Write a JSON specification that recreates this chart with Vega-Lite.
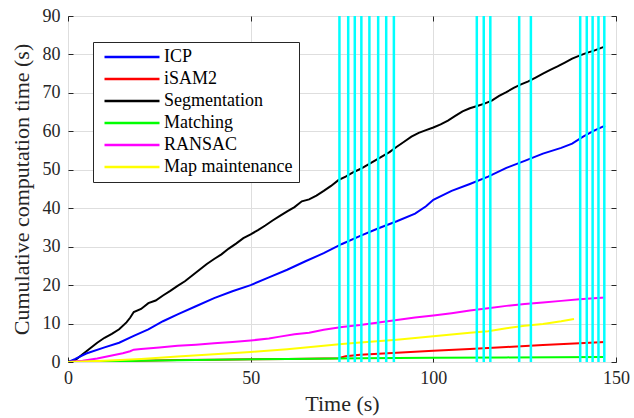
{
  "$schema": "https://vega.github.io/schema/vega-lite/v6.json",
  "width": 548,
  "height": 346,
  "autosize": {"type": "none"},
  "padding": {"left": 68, "top": 16, "right": 18, "bottom": 56},
  "config": {
    "font": "Liberation Serif, DejaVu Serif, serif",
    "view": {"stroke": "#262626", "strokeWidth": 1},
    "axis": {
      "domain": false,
      "grid": true,
      "gridColor": "#dedede",
      "gridWidth": 1,
      "tickColor": "#262626",
      "tickSize": -5,
      "labelFlush": false,
      "labelFont": "Liberation Serif, DejaVu Serif, serif",
      "labelFontSize": 18,
      "labelColor": "#262626",
      "titleFont": "Liberation Serif, DejaVu Serif, serif",
      "titleFontSize": 22,
      "titleFontWeight": "normal",
      "titleColor": "#262626"
    },
    "legend": {
      "labelFont": "Liberation Serif, DejaVu Serif, serif",
      "labelFontSize": 18,
      "labelColor": "#000000"
    }
  },
  "resolve": {"axis": {"x": "independent", "y": "independent"}},
  "datasets": {
    "series": [
      {"t": 0, "v": 0, "s": "Segmentation"},
      {"t": 2, "v": 0.5, "s": "Segmentation"},
      {"t": 4, "v": 2, "s": "Segmentation"},
      {"t": 6, "v": 3.5, "s": "Segmentation"},
      {"t": 8, "v": 5, "s": "Segmentation"},
      {"t": 10, "v": 6.3, "s": "Segmentation"},
      {"t": 12, "v": 7.3, "s": "Segmentation"},
      {"t": 14, "v": 8.5, "s": "Segmentation"},
      {"t": 16, "v": 10.3, "s": "Segmentation"},
      {"t": 17, "v": 11.5, "s": "Segmentation"},
      {"t": 18, "v": 13, "s": "Segmentation"},
      {"t": 20, "v": 13.8, "s": "Segmentation"},
      {"t": 22, "v": 15.3, "s": "Segmentation"},
      {"t": 24, "v": 16, "s": "Segmentation"},
      {"t": 26, "v": 17.3, "s": "Segmentation"},
      {"t": 28, "v": 18.5, "s": "Segmentation"},
      {"t": 30, "v": 19.8, "s": "Segmentation"},
      {"t": 32, "v": 21, "s": "Segmentation"},
      {"t": 34, "v": 22.5, "s": "Segmentation"},
      {"t": 36, "v": 24, "s": "Segmentation"},
      {"t": 38, "v": 25.5, "s": "Segmentation"},
      {"t": 40, "v": 26.8, "s": "Segmentation"},
      {"t": 42, "v": 28, "s": "Segmentation"},
      {"t": 44, "v": 29.5, "s": "Segmentation"},
      {"t": 46, "v": 30.8, "s": "Segmentation"},
      {"t": 48, "v": 32.2, "s": "Segmentation"},
      {"t": 50, "v": 33.2, "s": "Segmentation"},
      {"t": 52, "v": 34.3, "s": "Segmentation"},
      {"t": 54, "v": 35.5, "s": "Segmentation"},
      {"t": 56, "v": 36.8, "s": "Segmentation"},
      {"t": 58, "v": 38, "s": "Segmentation"},
      {"t": 60, "v": 39.2, "s": "Segmentation"},
      {"t": 62, "v": 40.3, "s": "Segmentation"},
      {"t": 64, "v": 41.8, "s": "Segmentation"},
      {"t": 66, "v": 42.3, "s": "Segmentation"},
      {"t": 68, "v": 43.3, "s": "Segmentation"},
      {"t": 70, "v": 44.5, "s": "Segmentation"},
      {"t": 72, "v": 45.8, "s": "Segmentation"},
      {"t": 74, "v": 47.3, "s": "Segmentation"},
      {"t": 76, "v": 48.2, "s": "Segmentation"},
      {"t": 78, "v": 49.3, "s": "Segmentation"},
      {"t": 80, "v": 50.2, "s": "Segmentation"},
      {"t": 82, "v": 51.3, "s": "Segmentation"},
      {"t": 84, "v": 52.4, "s": "Segmentation"},
      {"t": 86, "v": 53.5, "s": "Segmentation"},
      {"t": 88, "v": 54.6, "s": "Segmentation"},
      {"t": 90, "v": 56, "s": "Segmentation"},
      {"t": 92, "v": 57.3, "s": "Segmentation"},
      {"t": 94, "v": 58.6, "s": "Segmentation"},
      {"t": 96, "v": 59.6, "s": "Segmentation"},
      {"t": 98, "v": 60.3, "s": "Segmentation"},
      {"t": 100, "v": 61, "s": "Segmentation"},
      {"t": 102, "v": 61.8, "s": "Segmentation"},
      {"t": 104, "v": 62.8, "s": "Segmentation"},
      {"t": 106, "v": 64, "s": "Segmentation"},
      {"t": 108, "v": 65.2, "s": "Segmentation"},
      {"t": 110, "v": 66, "s": "Segmentation"},
      {"t": 112, "v": 66.6, "s": "Segmentation"},
      {"t": 114, "v": 67.2, "s": "Segmentation"},
      {"t": 116, "v": 68, "s": "Segmentation"},
      {"t": 118, "v": 69.2, "s": "Segmentation"},
      {"t": 120, "v": 70.2, "s": "Segmentation"},
      {"t": 122, "v": 71.3, "s": "Segmentation"},
      {"t": 124, "v": 72.2, "s": "Segmentation"},
      {"t": 126, "v": 73, "s": "Segmentation"},
      {"t": 128, "v": 74, "s": "Segmentation"},
      {"t": 130, "v": 75, "s": "Segmentation"},
      {"t": 132, "v": 76, "s": "Segmentation"},
      {"t": 134, "v": 76.9, "s": "Segmentation"},
      {"t": 136, "v": 77.9, "s": "Segmentation"},
      {"t": 138, "v": 78.9, "s": "Segmentation"},
      {"t": 140, "v": 79.7, "s": "Segmentation"},
      {"t": 142, "v": 80.4, "s": "Segmentation"},
      {"t": 144, "v": 81, "s": "Segmentation"},
      {"t": 146.5, "v": 81.9, "s": "Segmentation"},
      {"t": 0, "v": 0, "s": "ICP"},
      {"t": 2, "v": 0.8, "s": "ICP"},
      {"t": 5, "v": 2.2, "s": "ICP"},
      {"t": 10, "v": 3.8, "s": "ICP"},
      {"t": 14, "v": 5, "s": "ICP"},
      {"t": 18, "v": 6.8, "s": "ICP"},
      {"t": 22, "v": 8.5, "s": "ICP"},
      {"t": 26, "v": 10.6, "s": "ICP"},
      {"t": 30, "v": 12.4, "s": "ICP"},
      {"t": 35, "v": 14.5, "s": "ICP"},
      {"t": 40, "v": 16.6, "s": "ICP"},
      {"t": 45, "v": 18.4, "s": "ICP"},
      {"t": 50, "v": 20, "s": "ICP"},
      {"t": 55, "v": 22, "s": "ICP"},
      {"t": 60, "v": 24, "s": "ICP"},
      {"t": 65, "v": 26.2, "s": "ICP"},
      {"t": 70, "v": 28.3, "s": "ICP"},
      {"t": 75, "v": 30.7, "s": "ICP"},
      {"t": 80, "v": 32.8, "s": "ICP"},
      {"t": 85, "v": 34.8, "s": "ICP"},
      {"t": 90, "v": 36.6, "s": "ICP"},
      {"t": 95, "v": 38.6, "s": "ICP"},
      {"t": 98, "v": 40.5, "s": "ICP"},
      {"t": 100, "v": 42.2, "s": "ICP"},
      {"t": 105, "v": 44.5, "s": "ICP"},
      {"t": 110, "v": 46.3, "s": "ICP"},
      {"t": 115, "v": 48.2, "s": "ICP"},
      {"t": 120, "v": 50.5, "s": "ICP"},
      {"t": 125, "v": 52.3, "s": "ICP"},
      {"t": 130, "v": 54.2, "s": "ICP"},
      {"t": 135, "v": 55.7, "s": "ICP"},
      {"t": 138, "v": 56.8, "s": "ICP"},
      {"t": 141, "v": 58.6, "s": "ICP"},
      {"t": 144, "v": 60.2, "s": "ICP"},
      {"t": 147, "v": 61.5, "s": "ICP"},
      {"t": 0, "v": 0, "s": "iSAM2"},
      {"t": 10, "v": 0.1, "s": "iSAM2"},
      {"t": 20, "v": 0.3, "s": "iSAM2"},
      {"t": 30, "v": 0.5, "s": "iSAM2"},
      {"t": 40, "v": 0.6, "s": "iSAM2"},
      {"t": 50, "v": 0.7, "s": "iSAM2"},
      {"t": 60, "v": 0.8, "s": "iSAM2"},
      {"t": 70, "v": 0.9, "s": "iSAM2"},
      {"t": 74, "v": 1.0, "s": "iSAM2"},
      {"t": 76, "v": 1.5, "s": "iSAM2"},
      {"t": 80, "v": 1.9, "s": "iSAM2"},
      {"t": 90, "v": 2.4, "s": "iSAM2"},
      {"t": 100, "v": 2.9, "s": "iSAM2"},
      {"t": 110, "v": 3.4, "s": "iSAM2"},
      {"t": 120, "v": 3.9, "s": "iSAM2"},
      {"t": 130, "v": 4.4, "s": "iSAM2"},
      {"t": 140, "v": 4.9, "s": "iSAM2"},
      {"t": 147, "v": 5.2, "s": "iSAM2"},
      {"t": 0, "v": 0, "s": "Matching"},
      {"t": 20, "v": 0.3, "s": "Matching"},
      {"t": 40, "v": 0.6, "s": "Matching"},
      {"t": 60, "v": 0.8, "s": "Matching"},
      {"t": 80, "v": 1.0, "s": "Matching"},
      {"t": 100, "v": 1.1, "s": "Matching"},
      {"t": 120, "v": 1.2, "s": "Matching"},
      {"t": 146.5, "v": 1.3, "s": "Matching"},
      {"t": 0, "v": 0, "s": "RANSAC"},
      {"t": 4, "v": 0.3, "s": "RANSAC"},
      {"t": 8, "v": 0.9, "s": "RANSAC"},
      {"t": 12, "v": 1.7, "s": "RANSAC"},
      {"t": 15, "v": 2.3, "s": "RANSAC"},
      {"t": 17, "v": 2.8, "s": "RANSAC"},
      {"t": 18, "v": 3.2, "s": "RANSAC"},
      {"t": 20, "v": 3.4, "s": "RANSAC"},
      {"t": 25, "v": 3.8, "s": "RANSAC"},
      {"t": 30, "v": 4.2, "s": "RANSAC"},
      {"t": 35, "v": 4.5, "s": "RANSAC"},
      {"t": 40, "v": 4.9, "s": "RANSAC"},
      {"t": 45, "v": 5.2, "s": "RANSAC"},
      {"t": 50, "v": 5.6, "s": "RANSAC"},
      {"t": 55, "v": 6.1, "s": "RANSAC"},
      {"t": 58, "v": 6.6, "s": "RANSAC"},
      {"t": 62, "v": 7.2, "s": "RANSAC"},
      {"t": 66, "v": 7.6, "s": "RANSAC"},
      {"t": 70, "v": 8.4, "s": "RANSAC"},
      {"t": 75, "v": 9.1, "s": "RANSAC"},
      {"t": 80, "v": 9.6, "s": "RANSAC"},
      {"t": 85, "v": 10.3, "s": "RANSAC"},
      {"t": 90, "v": 10.9, "s": "RANSAC"},
      {"t": 95, "v": 11.6, "s": "RANSAC"},
      {"t": 100, "v": 12.1, "s": "RANSAC"},
      {"t": 105, "v": 12.7, "s": "RANSAC"},
      {"t": 110, "v": 13.4, "s": "RANSAC"},
      {"t": 115, "v": 14, "s": "RANSAC"},
      {"t": 120, "v": 14.6, "s": "RANSAC"},
      {"t": 125, "v": 15.1, "s": "RANSAC"},
      {"t": 130, "v": 15.5, "s": "RANSAC"},
      {"t": 135, "v": 15.9, "s": "RANSAC"},
      {"t": 140, "v": 16.3, "s": "RANSAC"},
      {"t": 144, "v": 16.6, "s": "RANSAC"},
      {"t": 147, "v": 16.8, "s": "RANSAC"},
      {"t": 0, "v": 0, "s": "Map maintenance"},
      {"t": 10, "v": 0.3, "s": "Map maintenance"},
      {"t": 20, "v": 0.8, "s": "Map maintenance"},
      {"t": 30, "v": 1.4, "s": "Map maintenance"},
      {"t": 40, "v": 2, "s": "Map maintenance"},
      {"t": 50, "v": 2.6, "s": "Map maintenance"},
      {"t": 60, "v": 3.3, "s": "Map maintenance"},
      {"t": 70, "v": 4.2, "s": "Map maintenance"},
      {"t": 75, "v": 4.7, "s": "Map maintenance"},
      {"t": 80, "v": 5.1, "s": "Map maintenance"},
      {"t": 90, "v": 5.8, "s": "Map maintenance"},
      {"t": 100, "v": 6.7, "s": "Map maintenance"},
      {"t": 110, "v": 7.6, "s": "Map maintenance"},
      {"t": 115, "v": 8.0, "s": "Map maintenance"},
      {"t": 120, "v": 8.8, "s": "Map maintenance"},
      {"t": 125, "v": 9.4, "s": "Map maintenance"},
      {"t": 130, "v": 9.9, "s": "Map maintenance"},
      {"t": 135, "v": 10.6, "s": "Map maintenance"},
      {"t": 138.5, "v": 11.2, "s": "Map maintenance"}
    ],
    "events": [
      {"t": 74.3}, {"t": 76.7}, {"t": 78.5}, {"t": 80.3}, {"t": 82.5}, {"t": 84.9}, {"t": 87.1}, {"t": 89.2},
      {"t": 111.9}, {"t": 113.8}, {"t": 115.6}, {"t": 123.5}, {"t": 126.7},
      {"t": 140.2}, {"t": 142.0}, {"t": 143.6}, {"t": 145.2}, {"t": 146.8}
    ]
  },
  "layer": [
    {
      "data": {"name": "series"},
      "mark": {"type": "line", "strokeWidth": 2, "clip": true},
      "encoding": {
        "x": {
          "field": "t", "type": "quantitative",
          "scale": {"domain": [0, 150], "nice": false},
          "axis": {"orient": "bottom", "title": "Time (s)", "values": [0, 50, 100, 150], "labelPadding": 12, "titlePadding": 6}
        },
        "y": {
          "field": "v", "type": "quantitative",
          "scale": {"domain": [0, 90], "nice": false},
          "axis": {"orient": "left", "title": "Cumulative computation time (s)", "values": [0, 10, 20, 30, 40, 50, 60, 70, 80, 90], "labelPadding": 13, "titlePadding": 9}
        },
        "color": {
          "field": "s", "type": "nominal",
          "scale": {
            "domain": ["ICP", "iSAM2", "Segmentation", "Matching", "RANSAC", "Map maintenance"],
            "range": ["#0000FF", "#FF0000", "#000000", "#00FF00", "#FF00FF", "#FFFF00"]
          },
          "legend": {
            "title": null,
            "orient": "none",
            "legendX": 25,
            "legendY": 26,
            "symbolType": "M-5,0L5,0",
            "symbolStrokeWidth": 2.5,
            "symbolSize": 121,
            "symbolOffset": 24,
            "fillColor": "#ffffff",
            "strokeColor": "#262626",
            "padding": 6,
            "rowPadding": 4,
            "labelOffset": 23
          }
        }
      }
    },
    {
      "data": {"name": "events"},
      "mark": {"type": "rule", "color": "#00FFFF", "strokeWidth": 2.5},
      "encoding": {
        "x": {"field": "t", "type": "quantitative", "axis": {"orient": "top", "labels": false, "title": null, "grid": false, "values": [0, 50, 100, 150]}},
        "y": {"datum": 0, "axis": {"orient": "right", "labels": false, "title": null, "grid": false, "values": [0, 10, 20, 30, 40, 50, 60, 70, 80, 90]}},
        "y2": {"datum": 90}
      }
    }
  ]
}
